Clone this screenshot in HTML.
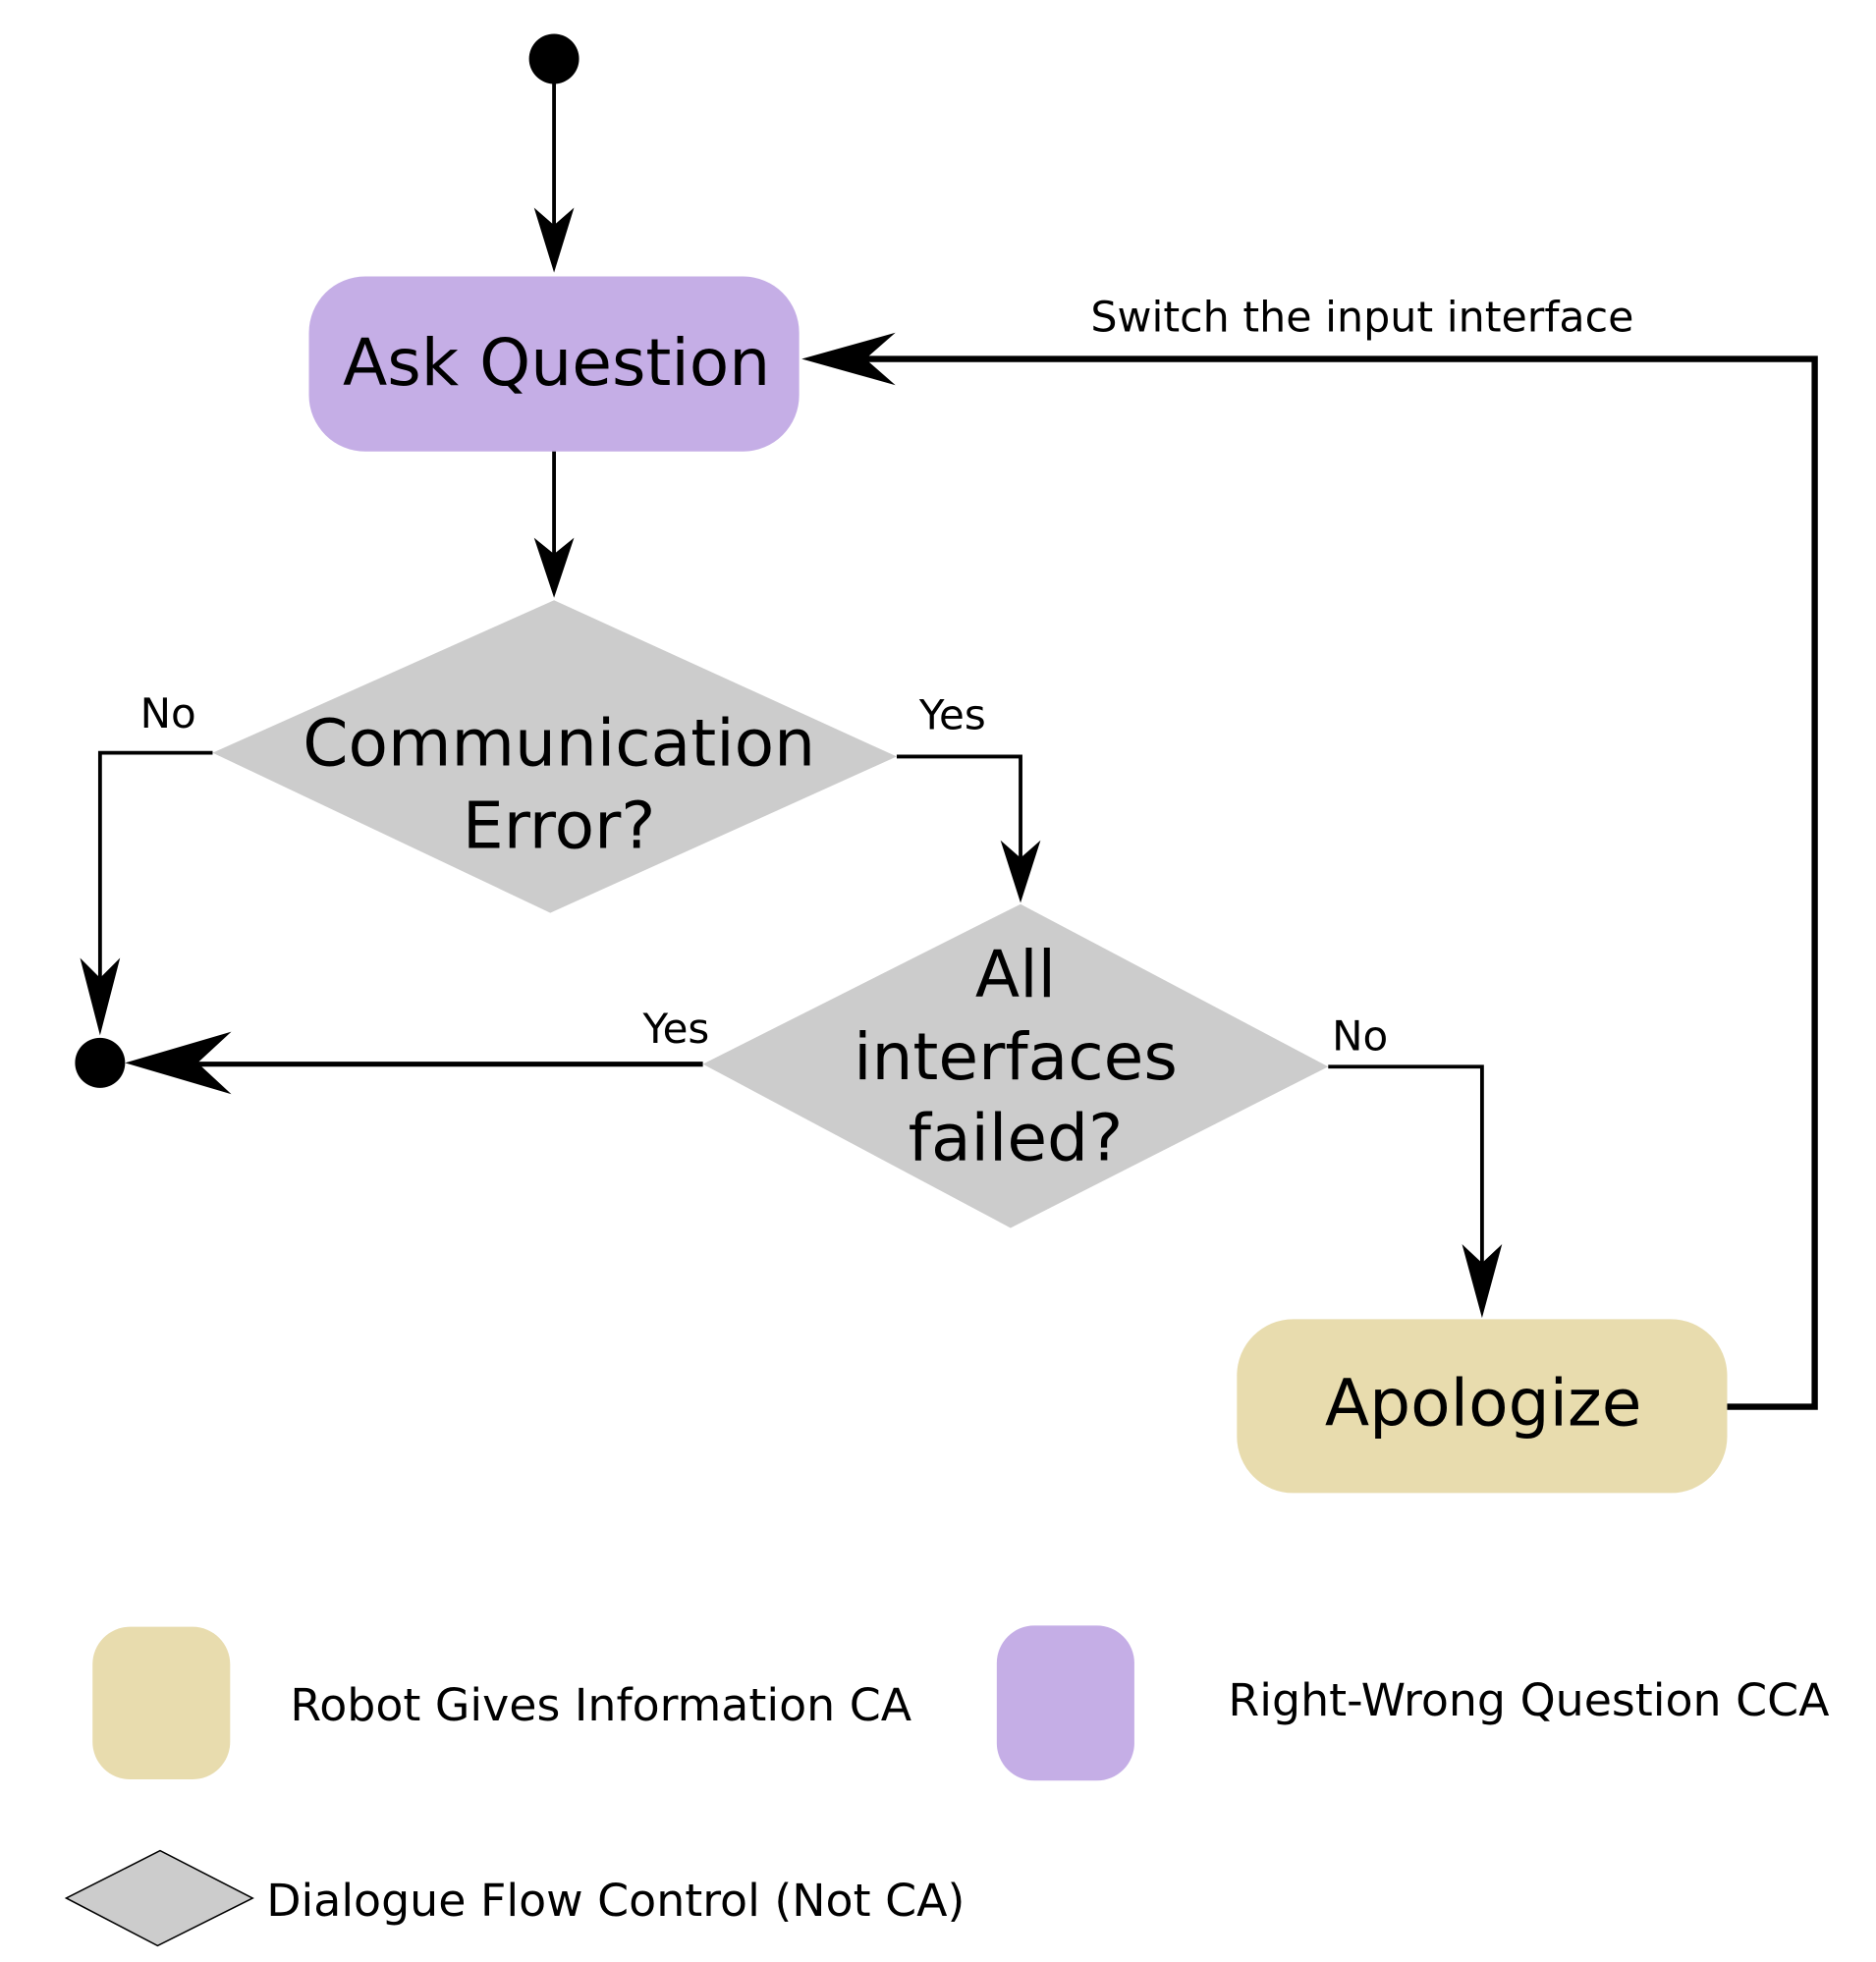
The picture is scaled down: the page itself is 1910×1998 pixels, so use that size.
<!DOCTYPE html>
<html><head><style>html,body{margin:0;padding:0;background:#fff}svg{display:block}</style></head>
<body>
<svg width="1910" height="1998" viewBox="0 0 1500 1569" xmlns="http://www.w3.org/2000/svg" font-family="'DejaVu Sans','Liberation Sans',sans-serif">
<rect width="1500" height="1569" fill="#fff"/>
<circle cx="443" cy="47" r="20" fill="#000"/>
<line x1="443" y1="60" x2="443" y2="200" stroke="#000" stroke-width="3"/>
<path d="M443 218 L427 166 L443 180 L459 166 Z" fill="#000"/>
<rect x="247" y="221" width="392" height="140" rx="45" fill="#c5aee6"/>
<text x="445" y="308" font-size="52" text-anchor="middle">Ask Question</text>
<line x1="443" y1="361" x2="443" y2="460" stroke="#000" stroke-width="3"/>
<path d="M443 478 L427 430 L443 443 L459 430 Z" fill="#000"/>
<polygon points="443,480 717,605 440,730 170,602" fill="#cccccc"/>
<text x="447" y="612" font-size="52" text-anchor="middle">Communication</text>
<text x="447" y="678" font-size="52" text-anchor="middle">Error?</text>
<polyline points="170,602 80,602 80,810" fill="none" stroke="#000" stroke-width="3"/>
<path d="M80 828 L64 766 L80 782 L96 766 Z" fill="#000"/>
<text x="112" y="582" font-size="33">No</text>
<polyline points="717,605 816,605 816,705" fill="none" stroke="#000" stroke-width="3"/>
<path d="M816 722 L800 672 L816 686 L832 672 Z" fill="#000"/>
<text x="735" y="583" font-size="33">Yes</text>
<polygon points="816,723 1062,853 808,982 562,851" fill="#cccccc"/>
<text x="812" y="797" font-size="52" text-anchor="middle">All</text>
<text x="812" y="863" font-size="52" text-anchor="middle">interfaces</text>
<text x="812" y="928" font-size="52" text-anchor="middle">failed?</text>
<circle cx="80" cy="850" r="20" fill="#000"/>
<line x1="562" y1="851" x2="120" y2="851" stroke="#000" stroke-width="4"/>
<path d="M100 850 L185 825 L158 850 L185 875 Z" fill="#000"/>
<text x="514" y="834" font-size="33">Yes</text>
<polyline points="1062,853 1185,853 1185,1035" fill="none" stroke="#000" stroke-width="3"/>
<path d="M1185 1054 L1169 995 L1185 1010 L1201 995 Z" fill="#000"/>
<text x="1065" y="840" font-size="33">No</text>
<rect x="989" y="1055" width="392" height="139" rx="45" fill="#e8dcae"/>
<text x="1186" y="1140" font-size="52" text-anchor="middle">Apologize</text>
<polyline points="1381,1125 1451,1125 1451,287 670,287" fill="none" stroke="#000" stroke-width="5"/>
<path d="M641 287 L716 266 L692 287 L716 308 Z" fill="#000"/>
<text x="872" y="265" font-size="33.6">Switch the input interface</text>
<rect x="74" y="1301" width="110" height="122" rx="30" fill="#e8dcae"/>
<text x="232" y="1376" font-size="36">Robot Gives Information CA</text>
<rect x="797" y="1300" width="110" height="124" rx="30" fill="#c5aee6"/>
<text x="982" y="1372" font-size="36">Right-Wrong Question CCA</text>
<polygon points="53,1518 128,1480 202,1518 126,1556" fill="#cccccc" stroke="#000" stroke-width="1.2"/>
<text x="213" y="1532" font-size="36">Dialogue Flow Control (Not CA)</text>
</svg>
</body></html>
